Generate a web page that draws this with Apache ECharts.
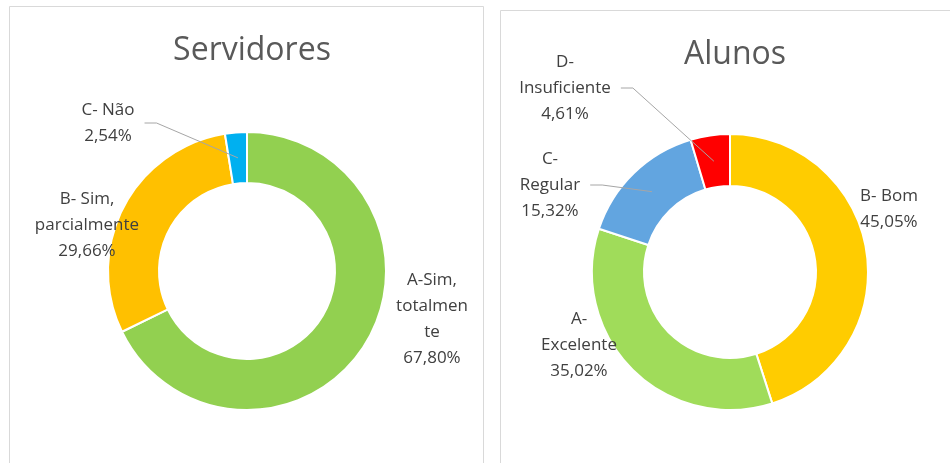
<!DOCTYPE html>
<html>
<head>
<meta charset="utf-8">
<script src="https://cdn.jsdelivr.net/npm/echarts@6/dist/echarts.min.js"></script>
<style>
  html, body { margin: 0; padding: 0; background: #fff; }
  #main { width: 950px; height: 463px; }
</style>
</head>
<body>
<div id="main"></div>
<script>
// Servidores
const servNames = ['A-Sim,\ntotalmen\nte', 'B- Sim,\nparcialmente', 'C- Não'];
const servValues = [67.80, 29.66, 2.54];
const servColors = ['#92D050', '#FFC000', '#00B0F0'];

// Alunos
const alunNames = ['B- Bom', 'A-\nExcelente', 'C-\nRegular', 'D-\nInsuficiente'];
const alunValues = [45.05, 35.02, 15.32, 4.61];
const alunColors = ['#FFCC00', '#A0DC5A', '#62A5E0', '#FF0000'];

// where each label sits (centre of the text block)
const servLabelPos = [[432, 319], [87, 225], [108, 123]];
const alunLabelPos = [[889, 209], [579, 345], [550, 185], [565, 88]];

var dom = document.getElementById('main');
var myChart = echarts.init(dom, null, { renderer: 'canvas' });

const fontFam = '"Open Sans", sans-serif';

function pct(v) {
  return v.toFixed(2).replace('.', ',') + '%';
}

function makeData(names, values, colors) {
  const out = [];
  for (let i = 0; i < names.length; i++) {
    out.push({ name: names[i], value: values[i], itemStyle: { color: colors[i] } });
  }
  return out;
}

// middle of a slice (mid angle, mid radius), pie starts at 12 o'clock going clockwise
function sliceMid(values, idx, center, radius) {
  let total = 0, before = 0;
  for (let i = 0; i < values.length; i++) {
    total += values[i];
    if (i < idx) before += values[i];
  }
  const a = (before + values[idx] / 2) / total * Math.PI * 2;
  const r = (radius[0] + radius[1]) / 2;
  return [center[0] + r * Math.sin(a), center[1] - r * Math.cos(a)];
}

// the coloured ring, no labels
function ringSeries(names, values, colors, center, radius) {
  return {
    type: 'pie',
    center: center,
    radius: radius,
    startAngle: 90,
    clockwise: true,
    silent: true,
    z: 2,
    data: makeData(names, values, colors),
    itemStyle: { borderColor: '#fff', borderWidth: 2 },
    label: { show: false },
    labelLine: { show: false }
  };
}

// same ring, transparent, on top: carries the labels so leader lines sit above the slices
function labelSeries(names, values, center, radius, labelPos, lineIdx) {
  const data = [];
  for (let i = 0; i < names.length; i++) {
    data.push({
      name: names[i],
      value: values[i],
      labelLine: { show: lineIdx.indexOf(i) >= 0 }
    });
  }
  return {
    type: 'pie',
    center: center,
    radius: radius,
    startAngle: 90,
    clockwise: true,
    silent: true,
    z: 3,
    data: data,
    itemStyle: { color: 'rgba(0,0,0,0)', borderWidth: 0 },
    label: {
      show: true,
      position: 'outside',
      overflow: 'none',
      formatter: function (p) { return p.name + '\n' + pct(p.value); },
      color: '#404040',
      fontFamily: fontFam,
      fontSize: 17,
      lineHeight: 26,
      align: 'center'
    },
    labelLine: {
      lineStyle: { color: '#A6A6A6', width: 1 },
      length: 10,
      length2: 10
    },
    labelLayout: function (params) {
      const i = params.dataIndex;
      const p = labelPos[i];
      const out = { x: p[0], y: p[1], align: 'center', verticalAlign: 'middle' };
      if (lineIdx.indexOf(i) >= 0) {
        const m = sliceMid(values, i, center, radius);
        const sx = p[0] + params.labelRect.width / 2 + 10;
        out.labelLinePoints = [m, [sx + 12, p[1]], [sx, p[1]]];
      }
      return out;
    }
  };
}

var option = {
  backgroundColor: '#fff',
  animation: false,
  title: [
    {
      text: 'Servidores', left: 247, top: 30, textAlign: 'center',
      textStyle: { fontFamily: fontFam, fontSize: 32, fontWeight: 'normal', color: '#595959' }
    },
    {
      text: 'Alunos', left: 730, top: 34, textAlign: 'center',
      textStyle: { fontFamily: fontFam, fontSize: 32, fontWeight: 'normal', color: '#595959' }
    }
  ],
  graphic: [
    { type: 'rect', shape: { x: 9.5, y: 6.5, width: 474, height: 470 },
      style: { fill: 'none', stroke: '#D9D9D9', lineWidth: 1 }, z: -1 },
    { type: 'rect', shape: { x: 500.5, y: 10.5, width: 470, height: 470 },
      style: { fill: 'none', stroke: '#D9D9D9', lineWidth: 1 }, z: -1 }
  ],
  series: [
    ringSeries(servNames, servValues, servColors, [247, 271], [88, 139]),
    ringSeries(alunNames, alunValues, alunColors, [730, 272], [86, 138]),
    labelSeries(servNames, servValues, [247, 271], [88, 139], servLabelPos, [2]),
    labelSeries(alunNames, alunValues, [730, 272], [86, 138], alunLabelPos, [2, 3])
  ]
};

if (option && typeof option === 'object') {
  myChart.setOption(option);
}

window.addEventListener('resize', myChart.resize);
</script>
</body>
</html>
